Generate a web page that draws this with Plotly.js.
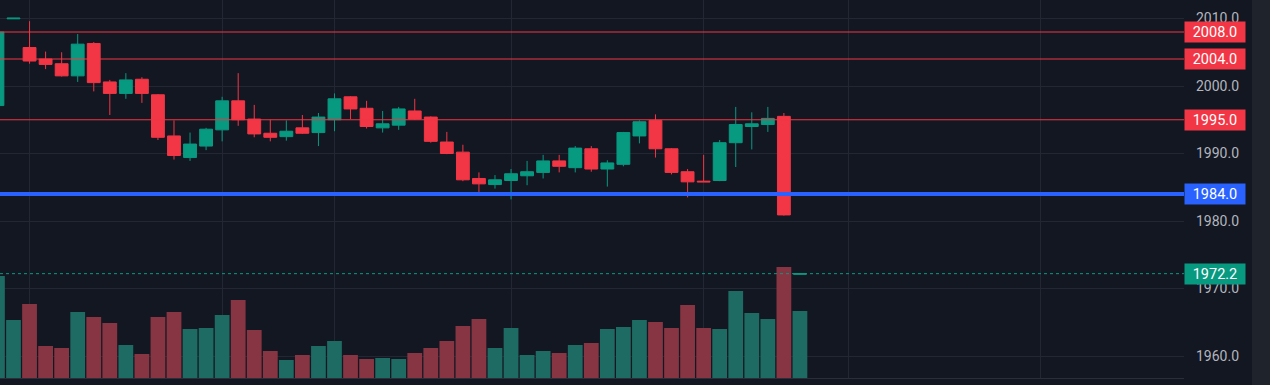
<!DOCTYPE html>
<html>
<head>
<meta charset="utf-8">
<script src="https://cdn.plot.ly/plotly-3.0.1.min.js"></script>
<style>
html,body{margin:0;padding:0;background:#131722;overflow:hidden;}
#chart{width:1270px;height:385px;}
</style>
</head>
<body>
<div id="chart"></div>
<script>
// ---- data ----
var bars = [0,1,2,3,4,5,6,7,8,9,10,11,12,13,14,15,16,17,18,19,20,21,22,23,24,25,26,27,28,29,30,31,32,33,34,35,36,37,38,39,40,41,42,43,44,45,46,47,48,49,50];
var openP  = [1997.1,2009.95,2005.7,2004.0,2003.3,2001.5,2006.3,2000.6,1998.9,2001.0,1998.7,1992.6,1989.4,1991.1,1993.5,1997.8,1995.1,1993.0,1992.5,1993.8,1993.1,1995.0,1998.4,1996.7,1993.8,1994.2,1996.3,1995.4,1991.7,1990.2,1986.3,1985.4,1986.0,1986.7,1987.2,1988.9,1987.9,1990.7,1987.7,1988.4,1992.6,1994.9,1990.7,1987.3,1985.9,1986.0,1991.6,1994.0,1994.3,1995.5,1972.1];
var highP  = [2008.5,2010.05,2009.6,2005.1,2005.0,2007.7,2006.5,2000.9,2001.9,2001.3,1998.8,1994.9,1993.1,1993.8,1998.4,2001.9,1997.2,1995.0,1994.9,1995.7,1996.0,1998.9,1998.5,1997.8,1996.3,1996.9,1998.1,1995.5,1993.2,1991.3,1987.2,1986.8,1987.7,1988.9,1989.8,1989.8,1991.1,1991.1,1989.0,1993.2,1994.9,1995.8,1990.8,1987.7,1989.8,1992.0,1996.9,1996.1,1996.9,1996.0,1972.2];
var lowP   = [1996.5,2009.95,2003.3,2002.5,2001.4,2000.6,1999.2,1995.7,1998.1,1997.5,1992.0,1989.1,1988.9,1990.5,1991.8,1994.1,1992.4,1991.8,1991.9,1992.9,1991.1,1993.3,1995.1,1993.7,1993.1,1993.5,1995.0,1991.6,1989.9,1985.9,1984.3,1984.8,1983.2,1985.3,1986.3,1987.2,1987.2,1987.3,1985.1,1988.1,1991.5,1989.4,1986.9,1983.5,1985.8,1985.9,1988.0,1990.6,1993.2,1980.8,1972.1];
var closeP = [2008.0,2010.05,2003.7,2003.2,2001.5,2006.2,2000.5,1998.9,2000.9,1998.9,1992.4,1989.7,1991.4,1993.6,1997.8,1995.0,1992.9,1992.4,1993.3,1993.0,1995.4,1998.1,1996.6,1994.0,1994.4,1996.6,1995.1,1991.8,1990.0,1986.1,1985.5,1986.1,1987.0,1987.3,1988.9,1988.1,1990.8,1987.7,1988.6,1993.1,1994.7,1990.7,1987.2,1985.8,1985.8,1991.6,1994.3,1994.4,1995.2,1980.9,1972.2];
var volume = [10200,5800,7400,3200,3000,6600,6100,5500,3300,2400,6100,6600,4900,5000,6300,7800,4800,2700,1800,2300,3200,3700,2300,1900,2000,1900,2500,3000,3700,5200,5900,3000,5000,2300,2700,2500,3300,3500,4900,5100,5800,5600,5000,7300,5000,4900,8700,6500,5900,11100,6700];
var resistanceLevels = [2008.0, 2004.0, 1995.0];
var supportLevel = 1984.0;
var lastPrice = 1972.2;
var priceTicks = [1960, 1970, 1980, 1990, 2000, 2010];
var timeGrid = [2, 14, 21, 32, 44, 53, 65];

// ---- style ----
var BG = '#131722', GRID = '#232733', TXT = '#b2b5be';
var UP = '#089981', DOWN = '#f23645';
var UPV = '#1d6b63', DOWNV = '#883543';
var BLUE = '#2962ff';
var FONT = 'Roboto, "Liberation Sans", Arial, sans-serif';

var volColors = bars.map(function(i){ return closeP[i] >= openP[i] ? UPV : DOWNV; });

var traces = [
  {
    type: 'bar', x: bars, y: volume, yaxis: 'y2',
    marker: {color: volColors, line: {width: 0}},
    hoverinfo: 'skip', showlegend: false
  },
  {
    type: 'candlestick', x: bars, open: openP, high: highP, low: lowP, close: closeP,
    increasing: {line: {color: UP, width: 1}, fillcolor: UP},
    decreasing: {line: {color: DOWN, width: 1}, fillcolor: DOWN},
    whiskerwidth: 0, hoverinfo: 'skip', showlegend: false
  }
];

var shapes = [];
resistanceLevels.forEach(function(v){
  shapes.push({type:'line', xref:'paper', x0:0, x1:1, yref:'y', y0:v, y1:v,
    line:{color: DOWN, width:1.2}, layer:'above'});
});
shapes.push({type:'line', xref:'paper', x0:0, x1:1, yref:'y', y0:supportLevel, y1:supportLevel,
  line:{color: BLUE, width:4}, layer:'above'});
shapes.push({type:'line', xref:'paper', x0:0, x1:1, yref:'y', y0:lastPrice, y1:lastPrice,
  line:{color: UP, width:1, dash:'dot'}, layer:'above'});
// right toolbar strip
shapes.push({type:'rect', xref:'paper', yref:'paper', x0:1252/1184, x1:1300/1184, y0:-0.05, y1:1.02,
  fillcolor:'#1f232c', line:{width:0}, layer:'above'});

function priceLabel(v, color){
  return {xref:'paper', x:1, xanchor:'left', yref:'y', y:v, yanchor:'middle',
    text: v.toFixed(1), showarrow:false, bgcolor: color, borderpad:0, width:60, height:20,
    align:'center', font:{family: FONT, size:14.5, color:'#ffffff'}};
}
var annotations = resistanceLevels.map(function(v){ return priceLabel(v, DOWN); });
annotations.push(priceLabel(supportLevel, BLUE));
annotations.push(priceLabel(lastPrice, UP));

var layout = {
  width: 1270, height: 385,
  margin: {l:0, r:86, t:0, b:7, pad:0},
  paper_bgcolor: BG, plot_bgcolor: BG,
  showlegend: false, dragmode: false,
  boxgap: 0.2, boxgroupgap: 0, bargap: 0.08,
  font: {family: FONT, size:14, color: TXT},
  xaxis: {
    range: [0.159, 73.93], tickvals: timeGrid, showticklabels: false, ticks: '',
    showgrid: true, gridcolor: GRID, gridwidth: 1, zeroline: false,
    showline: true, linecolor: '#2a2e39', linewidth: 1, mirror: false,
    rangeslider: {visible: false}, fixedrange: true
  },
  yaxis: {
    side: 'right', range: [1956.74, 2012.74], tickvals: priceTicks, tickformat: '.1f',
    showgrid: true, gridcolor: GRID, gridwidth: 1, zeroline: false, ticks: '',
    ticklabelstandoff: 11, showline: false, fixedrange: true,
    tickfont: {size:14, color: TXT}
  },
  yaxis2: {
    overlaying: 'y', range: [0, 37800], visible: false, showgrid: false, fixedrange: true
  },
  shapes: shapes,
  annotations: annotations
};

Plotly.newPlot('chart', traces, layout, {displayModeBar: false, staticPlot: true});
</script>
</body>
</html>
